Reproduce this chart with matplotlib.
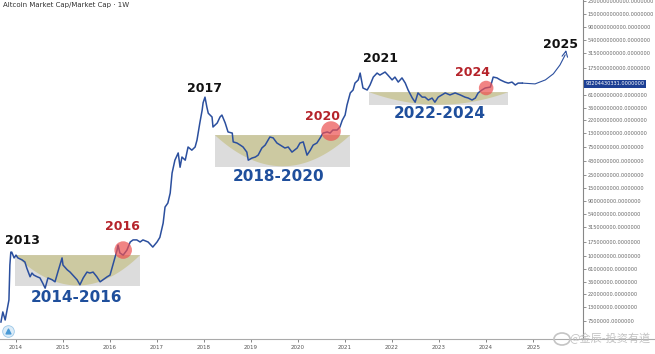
import numpy as np
import matplotlib
matplotlib.use("Agg")
import matplotlib.pyplot as plt
from matplotlib.lines import Line2D
from matplotlib.patches import Rectangle, Polygon, Ellipse
from matplotlib.ticker import FixedLocator, NullLocator

# weekly altcoin market cap (decimal year, $ billions)
years = [
    2013.68, 2013.72, 2013.77, 2013.81, 2013.85, 2013.87, 2013.89, 2013.91, 2013.96, 2014.00,
    2014.04, 2014.13, 2014.19, 2014.23, 2014.30, 2014.34, 2014.38, 2014.45, 2014.51, 2014.57,
    2014.62, 2014.68, 2014.77, 2014.83, 2014.89, 2014.98, 2015.00, 2015.09, 2015.15, 2015.21,
    2015.30, 2015.36, 2015.43, 2015.51, 2015.57, 2015.64, 2015.72, 2015.79, 2015.85, 2015.94,
    2016.00, 2016.06, 2016.15, 2016.17, 2016.21, 2016.28, 2016.36, 2016.43, 2016.49, 2016.57,
    2016.64, 2016.70, 2016.81, 2016.91, 2017.00, 2017.06, 2017.13, 2017.17, 2017.23, 2017.28,
    2017.32, 2017.38, 2017.45, 2017.49, 2017.53, 2017.60, 2017.66, 2017.74, 2017.81, 2017.85,
    2017.91, 2017.96, 2017.98, 2018.02, 2018.06, 2018.09, 2018.17, 2018.19, 2018.28, 2018.34,
    2018.38, 2018.45, 2018.51, 2018.60, 2018.62, 2018.70, 2018.77, 2018.83, 2018.91, 2018.94,
    2019.02, 2019.09, 2019.15, 2019.23, 2019.30, 2019.40, 2019.47, 2019.55, 2019.62, 2019.72,
    2019.79, 2019.87, 2019.98, 2020.04, 2020.11, 2020.19, 2020.26, 2020.32, 2020.40, 2020.47,
    2020.53, 2020.62, 2020.68, 2020.74, 2020.83, 2020.89, 2020.94, 2021.00, 2021.04, 2021.11,
    2021.17, 2021.21, 2021.28, 2021.32, 2021.38, 2021.47, 2021.53, 2021.60, 2021.68, 2021.74,
    2021.85, 2021.91, 2022.00, 2022.06, 2022.13, 2022.21, 2022.28, 2022.34, 2022.43, 2022.49,
    2022.55, 2022.64, 2022.70, 2022.77, 2022.85, 2022.91, 2022.98, 2023.06, 2023.13, 2023.23,
    2023.34, 2023.45, 2023.55, 2023.62, 2023.70, 2023.77, 2023.83, 2023.91, 2023.98, 2024.09,
    2024.15, 2024.23, 2024.30, 2024.40, 2024.47, 2024.55, 2024.62, 2024.68, 2024.77,
]
mcap_bn = [
    0.0073, 0.0109, 0.0079, 0.0118, 0.0175, 0.070, 0.117, 0.117, 0.093, 0.104,
    0.093, 0.086, 0.079, 0.062, 0.044, 0.051, 0.047, 0.044, 0.042, 0.034,
    0.028, 0.042, 0.039, 0.036, 0.053, 0.093, 0.070, 0.058, 0.053, 0.047,
    0.039, 0.032, 0.042, 0.053, 0.051, 0.053, 0.044, 0.036, 0.039, 0.044,
    0.047, 0.070, 0.127, 0.155, 0.113, 0.104, 0.127, 0.175, 0.19, 0.19,
    0.175, 0.19, 0.175, 0.143, 0.175, 0.21, 0.37, 0.70, 0.82, 1.22,
    2.7, 4.5, 6.0, 3.4, 5.1, 4.5, 7.6, 6.7, 7.6, 10.0,
    19.7, 33, 44, 55, 37, 29, 25, 16.8, 19.7, 25,
    27, 19.7, 13.8, 13.2, 9.3, 8.9, 8.2, 7.6, 6.2, 4.5,
    4.9, 5.1, 5.5, 7.3, 8.2, 11.3, 10.9, 8.9, 8.2, 7.3,
    7.6, 6.2, 7.3, 8.9, 9.3, 5.5, 6.7, 8.2, 8.9, 10.9,
    13.2, 13.8, 13.2, 14.9, 14.9, 16.8, 22, 27, 40, 65,
    73, 96, 109, 143, 79, 73, 89, 122, 143, 132,
    149, 132, 109, 122, 100, 118, 96, 73, 53, 45,
    65, 55, 55, 49, 53, 45, 55, 60, 65, 60,
    65, 60, 55, 53, 49, 53, 65, 73, 79, 82,
    122, 118, 109, 100, 96, 100, 89, 96, 96,
]

# hand drawn projection towards 2025
proj_years = [2024.77, 2025.04, 2025.26, 2025.43, 2025.57, 2025.68]
proj_bn = [96, 93, 109, 139, 197, 293]
proj_tip = (2025.70, 357)

# accumulation boxes: x0, x1, bottom, top ($bn)
zones = [(2013.98, 2016.64, 0.030, 0.104),
         (2018.23, 2021.11, 3.4, 12.2),
         (2021.51, 2024.47, 40, 67)]
# breakout spots
breakouts = [(2016.28, 0.127), (2020.70, 14.3), (2024.00, 79)]
breakout_sizes = [160, 200, 110]

price_ticks_bn = [2500, 1500, 900, 540, 315, 175, 61, 36, 22, 13, 7.5, 4.3, 2.5,
                  1.5, 0.9, 0.54, 0.315, 0.175, 0.1, 0.061, 0.036, 0.022, 0.013, 0.0075]
last_value = 93204430331
year_ticks = list(range(2014, 2026))

LINE = "#2b4f9e"
BLUE = "#1f4f9c"
RED = "#b5232a"

fig = plt.figure(figsize=(6.55, 3.54), dpi=100)
ax = fig.add_axes([0, 1 - 339 / 354, 583 / 655, 339 / 354])
ax.set_yscale("log")
ax.set_xlim(2013.66, 2026.06)
ax.set_ylim(0.00372, 2600)

# zones: grey box with an olive cup on top
for x0, x1, lo, hi in zones:
    ax.add_patch(Rectangle((x0, lo), x1 - x0, hi - lo, facecolor="#dcdcdc",
                           edgecolor="none", zorder=1))
    u = np.linspace(0, 1, 80)
    frac = 1 - (2 * u - 1) ** 2
    lt, lb = np.log10(hi), np.log10(lo)
    cup_y = 10 ** (lt - (lt - lb) * 0.97 * frac)
    cup_x = x0 + u * (x1 - x0)
    pts = np.column_stack([np.r_[cup_x, x1, x0], np.r_[cup_y, hi, hi]])
    ax.add_patch(Polygon(pts, closed=True, facecolor="#cbc79b", edgecolor="none",
                         alpha=0.9, zorder=1.5))

ax.plot(years, mcap_bn, color=LINE, lw=1.1, zorder=3)
ax.plot(proj_years, proj_bn, color=LINE, lw=0.8, zorder=3)
ax.annotate("", xy=proj_tip, xytext=(proj_years[-1], proj_bn[-1]),
            arrowprops=dict(arrowstyle="->", color=LINE, lw=0.8))

bx, by = zip(*breakouts)
ax.scatter(bx, by, s=breakout_sizes, color="#ec5050", alpha=0.7, edgecolors="none", zorder=4)

# little icon in bottom-left corner
ax.scatter([2013.82], [0.0052], s=70, color="#dcecf8", edgecolors="#9cc8e8", lw=0.6, zorder=5)
ax.scatter([2013.82], [0.0052], s=12, color="#4a9ad6", marker="^", zorder=6)

# axes styling
for s in ["top", "left"]:
    ax.spines[s].set_visible(False)
ax.spines["right"].set_color("#888888")
ax.spines["right"].set_linewidth(0.8)
ax.spines["bottom"].set_color("#aaaaaa")
ax.spines["bottom"].set_linewidth(0.8)
fig.add_artist(Line2D([583 / 655, 1], [1 - 339 / 354] * 2, color="#aaaaaa", lw=0.8))

ax.yaxis.tick_right()
ax.yaxis.set_major_locator(FixedLocator(price_ticks_bn))
ax.yaxis.set_minor_locator(NullLocator())
ax.set_yticklabels([f"{v * 1e9:.0f}.0000000" for v in price_ticks_bn])
ax.tick_params(axis="y", labelsize=3.6, colors="#666666", length=2, width=0.5, pad=1.5)
ax.set_xticks(year_ticks)
ax.set_xticklabels([str(y) for y in year_ticks])
ax.tick_params(axis="x", labelsize=4, colors="#555555", length=2, width=0.5, pad=2)

ax.text(1.004, last_value / 1e9, f"{last_value}.0000000", transform=ax.get_yaxis_transform(),
        fontsize=3.6, color="white", va="center", ha="left",
        bbox=dict(boxstyle="square,pad=0.25", facecolor="#1c3f94", edgecolor="none"))

fig.text(3 / 655, 1 - 5 / 354, "Altcoin Market Cap/Market Cap · 1W", fontsize=5,
         color="#333333", va="center", ha="left")


def label(px, py, txt, color, size):
    fig.text(px / 655, 1 - py / 354, txt, color=color, fontsize=size, fontweight="bold",
             ha="center", va="center")


label(22, 241, "2013", "#111111", 9)
label(204, 88, "2017", "#111111", 9)
label(380, 59, "2021", "#111111", 9)
label(560, 44, "2025", "#111111", 9)
label(122, 227, "2016", RED, 9)
label(323, 116, "2020", RED, 9)
label(472, 72, "2024", RED, 9)
label(77, 297, "2014-2016", BLUE, 11)
label(279, 176, "2018-2020", BLUE, 11)
label(440, 113, "2022-2024", BLUE, 11)

# watermark (weibo-like logo + handle)
fig.add_artist(Ellipse((562 / 655, 1 - 339 / 354), 16 / 655, 12 / 354, facecolor="none",
                       edgecolor="#c4c4c4", lw=1.2, transform=fig.transFigure))
fig.text(651 / 655, 1 - 338 / 354, "@金辰-投资有道", fontsize=8, color="#bdbdbd",
         family=["Noto Sans CJK SC", "DejaVu Sans"], ha="right", va="center", alpha=0.9)

fig.savefig("out.png", dpi=100)
